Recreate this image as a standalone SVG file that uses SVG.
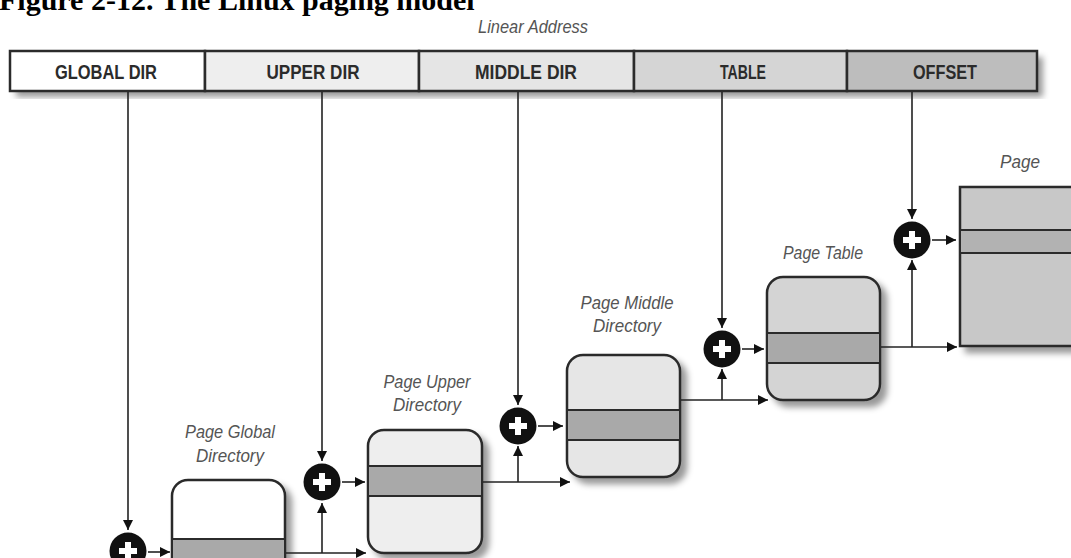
<svg xmlns="http://www.w3.org/2000/svg" width="1071" height="558" viewBox="0 0 1071 558">
  <style>
    .title{font-family:"Liberation Serif","Times New Roman",serif;font-weight:bold;font-size:30px;fill:#000}
    .cap{font-family:"Liberation Sans",Arial,sans-serif;font-style:italic;font-size:19px;fill:#555;text-anchor:middle}
    .field{font-family:"Liberation Sans",Arial,sans-serif;font-weight:bold;font-size:21px;fill:#2b2b2b;text-anchor:middle}
    .cell{stroke:#2b2b2b;stroke-width:2.5}
    .box{stroke:#2b2b2b;stroke-width:2.5}
    .band{stroke:#2b2b2b;stroke-width:2}
    .wire{fill:none;stroke:#222;stroke-width:1.6}
  </style>
  <defs>
    <marker id="arrow" viewBox="0 0 10 10" refX="10" refY="5" markerWidth="10" markerHeight="10" markerUnits="userSpaceOnUse" orient="auto">
      <path d="M0,0 L10,5 L0,10 z" fill="#111"/>
    </marker>
    <filter id="shadow" x="-10%" y="-10%" width="130%" height="130%">
      <feDropShadow dx="6" dy="6" stdDeviation="3" flood-color="#000" flood-opacity="0.4"/>
    </filter>
    <!-- adder symbol: black disc with a white plus -->
    <g id="plus">
      <circle r="18.5" fill="#111"/>
      <path d="M-3,-9h6v6h6v6h-6v6h-6v-6h-6v-6h6z" fill="#fff"/>
    </g>
  </defs>

  <rect width="1071" height="558" fill="#fff"/>

  <text class="title" x="-1" y="10">Figure 2-12. The Linux paging model</text>

  <!-- linear address split into its five fields -->
  <g id="linear-address">
    <text class="cap" x="533" y="33" font-size="16" textLength="110" lengthAdjust="spacingAndGlyphs">Linear Address</text>
    <rect x="10" y="51" width="1027" height="40" fill="#fff" filter="url(#shadow)"/>
    <rect class="cell" x="10" y="51" width="195" height="40" fill="#ffffff"/>
    <rect class="cell" x="205" y="51" width="214" height="40" fill="#eeeeee"/>
    <rect class="cell" x="419" y="51" width="215" height="40" fill="#e5e5e5"/>
    <rect class="cell" x="634" y="51" width="213" height="40" fill="#d5d5d5"/>
    <rect class="cell" x="847" y="51" width="190" height="40" fill="#bdbdbd"/>
    <text class="field" x="106" y="79" textLength="102" lengthAdjust="spacingAndGlyphs">GLOBAL DIR</text>
    <text class="field" x="313" y="79" textLength="93" lengthAdjust="spacingAndGlyphs">UPPER DIR</text>
    <text class="field" x="526" y="79" textLength="102" lengthAdjust="spacingAndGlyphs">MIDDLE DIR</text>
    <text class="field" x="743" y="79" textLength="46" lengthAdjust="spacingAndGlyphs">TABLE</text>
    <text class="field" x="945" y="79" textLength="64" lengthAdjust="spacingAndGlyphs">OFFSET</text>
  </g>

  <!-- Page Global Directory -->
  <g id="pgd">
    <text class="cap" x="230" y="438" textLength="90" lengthAdjust="spacingAndGlyphs">Page Global</text>
    <text class="cap" x="230" y="462" textLength="68" lengthAdjust="spacingAndGlyphs">Directory</text>
    <rect class="box" x="172" y="480" width="113" height="123" rx="16" fill="#ffffff" filter="url(#shadow)"/>
    <rect class="band" x="172" y="539" width="113" height="30" fill="#a9a9a9"/>
  </g>

  <!-- Page Upper Directory -->
  <g id="pud">
    <text class="cap" x="427" y="388" textLength="87" lengthAdjust="spacingAndGlyphs">Page Upper</text>
    <text class="cap" x="427" y="411" textLength="68" lengthAdjust="spacingAndGlyphs">Directory</text>
    <rect class="box" x="368" y="430" width="114" height="123" rx="16" fill="#eeeeee" filter="url(#shadow)"/>
    <rect class="band" x="368" y="466" width="114" height="30" fill="#a9a9a9"/>
  </g>

  <!-- Page Middle Directory -->
  <g id="pmd">
    <text class="cap" x="627" y="309" textLength="93" lengthAdjust="spacingAndGlyphs">Page Middle</text>
    <text class="cap" x="627" y="332" textLength="68" lengthAdjust="spacingAndGlyphs">Directory</text>
    <rect class="box" x="567" y="355" width="113" height="122" rx="16" fill="#e6e6e6" filter="url(#shadow)"/>
    <rect class="band" x="567" y="410" width="113" height="30" fill="#a9a9a9"/>
  </g>

  <!-- Page Table -->
  <g id="pt">
    <text class="cap" x="823" y="259" textLength="80" lengthAdjust="spacingAndGlyphs">Page Table</text>
    <rect class="box" x="767" y="277" width="113" height="123" rx="16" fill="#d4d4d4" filter="url(#shadow)"/>
    <rect class="band" x="767" y="333" width="113" height="30" fill="#a9a9a9"/>
  </g>

  <!-- Page -->
  <g id="page">
    <text class="cap" x="1020" y="168" textLength="40" lengthAdjust="spacingAndGlyphs">Page</text>
    <rect class="box" x="960" y="187" width="130" height="159" fill="#c8c8c8" filter="url(#shadow)"/>
    <rect class="band" x="960" y="230" width="130" height="23" fill="#b2b2b2"/>
  </g>

  <!-- adders -->
  <g id="add-pgd"><use href="#plus" x="128" y="551"/></g>
  <g id="add-pud"><use href="#plus" x="322" y="482"/></g>
  <g id="add-pmd"><use href="#plus" x="518" y="426"/></g>
  <g id="add-pt"><use href="#plus" x="722" y="349"/></g>
  <g id="add-page"><use href="#plus" x="912" y="240"/></g>

  <g id="connectors" class="wire">
    <!-- field values down to the adders -->
    <path d="M128,92 V530" marker-end="url(#arrow)"/>
    <path d="M322,92 V461" marker-end="url(#arrow)"/>
    <path d="M518,92 V405" marker-end="url(#arrow)"/>
    <path d="M722,92 V328" marker-end="url(#arrow)"/>
    <path d="M912,92 V219" marker-end="url(#arrow)"/>
    <!-- adders into table entries -->
    <path d="M148,552 H170" marker-end="url(#arrow)"/>
    <path d="M342,482 H365" marker-end="url(#arrow)"/>
    <path d="M538,426 H563" marker-end="url(#arrow)"/>
    <path d="M742,349 H764" marker-end="url(#arrow)"/>
    <path d="M932,240 H956" marker-end="url(#arrow)"/>
    <!-- table base addresses to the next level -->
    <path d="M286,553 H366" marker-end="url(#arrow)"/>
    <path d="M322,553 V503" marker-end="url(#arrow)"/>
    <path d="M483,482 H570" marker-end="url(#arrow)"/>
    <path d="M518,482 V446" marker-end="url(#arrow)"/>
    <path d="M681,400 H768" marker-end="url(#arrow)"/>
    <path d="M722,400 V369" marker-end="url(#arrow)"/>
    <path d="M881,347 H957" marker-end="url(#arrow)"/>
    <path d="M912,347 V260" marker-end="url(#arrow)"/>
  </g>
</svg>
